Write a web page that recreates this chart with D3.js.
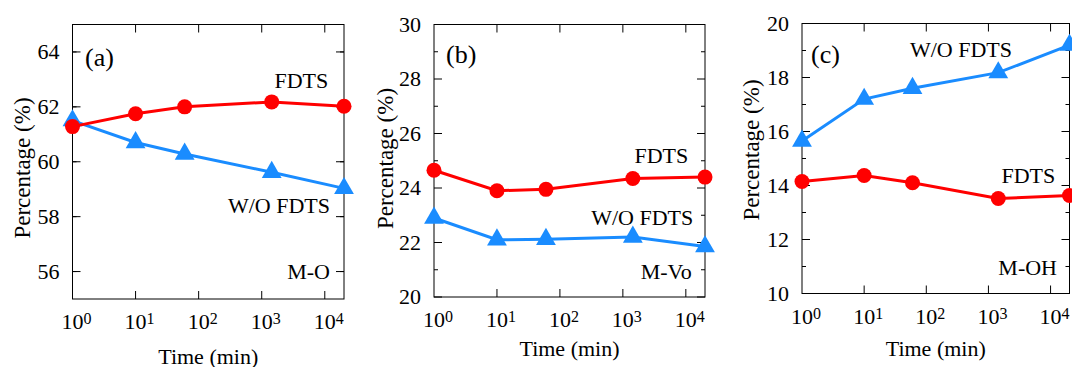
<!DOCTYPE html>
<head>
  <meta charset="utf-8">
  <script src="https://cdn.jsdelivr.net/npm/d3@7/dist/d3.min.js"></script>
  <style>
    body { margin: 0; background: #ffffff; }
    svg text { font-family: "Liberation Serif", "DejaVu Serif", "Times New Roman", Times, serif !important; }
  </style>
</head>

<body>
  <div id="chart"></div>

  <script>
    // Sampling times (min), same for all three panels
    var times = [1, 10, 60, 1440, 20160];
    var xTicks = [1, 10, 100, 1000, 10000];

    // (a) M-O
    var moFdts = [61.28, 61.75, 62.0, 62.18, 62.02];
    var moWo   = [61.5, 60.7, 60.28, 59.62, 59.03];
    var moTicks = [56, 58, 60, 62, 64];

    // (b) M-Vo
    var mvoFdts = [24.65, 23.9, 23.95, 24.35, 24.4];
    var mvoWo   = [22.9, 22.1, 22.12, 22.2, 21.85];
    var mvoTicks = [20, 22, 24, 26, 28, 30];

    // (c) M-OH
    var mohFdts = [14.15, 14.37, 14.1, 13.52, 13.63];
    var mohWo   = [15.65, 17.2, 17.6, 18.18, 19.2];
    var mohTicks = [10, 12, 14, 16, 18, 20];

    var red = "#ff0000",
        blue = "#1a8cff";

    var svg = d3.select("#chart").append("svg")
        .attr("width", 1072)
        .attr("height", 367);

    var panels = [
      { left: 72.5, top: 24.5, width: 271.5, height: 274.5, yDomain: [55, 65], yTicks: moTicks,
        fdts: moFdts, wo: moWo, yTitle: [30, 168], xTitleY: 64.5,
        labels: [
          { text: "(a)", x: 12.5, y: 41.5, size: 26, anchor: "start" },
          { text: "FDTS", x: 255.8, y: 63.2 },
          { text: "W/O FDTS", x: 257.5, y: 188.8 },
          { text: "M-O", x: 257.5, y: 254.8 }
        ] },
      { left: 434, top: 24.5, width: 271, height: 272.5, yDomain: [20, 30], yTicks: mvoTicks,
        fdts: mvoFdts, wo: mvoWo, yTitle: [393, 158.5], xTitleY: 58.5,
        labels: [
          { text: "(b)", x: 12, y: 38.8, size: 26, anchor: "start" },
          { text: "FDTS", x: 254.3, y: 138.2 },
          { text: "W/O FDTS", x: 259.3, y: 200.5 },
          { text: "M-Vo", x: 257.7, y: 254.8 }
        ] },
      { left: 802, top: 23.5, width: 267.5, height: 270, yDomain: [10, 20], yTicks: mohTicks,
        fdts: mohFdts, wo: mohWo, yTitle: [759, 150], xTitleY: 62.5,
        labels: [
          { text: "(c)", x: 9, y: 39.8, size: 26, anchor: "start" },
          { text: "W/O FDTS", x: 210, y: 33.8 },
          { text: "FDTS", x: 253.3, y: 159.2 },
          { text: "M-OH", x: 255, y: 251.5 }
        ] }
    ];

    panels.forEach(function(p) {
      var x = d3.scaleLog().domain([1, 20160]).range([0, p.width]);
      var y = d3.scaleLinear().domain(p.yDomain).range([p.height, 0]);

      var g = svg.append("g")
          .attr("transform", "translate(" + p.left + "," + p.top + ")");

      // minor y ticks at the odd values between the majors
      var minor = [];
      for (var v = p.yDomain[0] + 1; v < p.yDomain[1]; v += 2) minor.push(v);

      g.selectAll(".ymaj").data(p.yTicks).enter().append("path")
          .attr("d", function(d) {
            return "M0," + y(d) + "h8M" + p.width + "," + y(d) + "h-8";
          })
          .attr("stroke", "#000").attr("stroke-width", 1);
      g.selectAll(".ymin").data(minor).enter().append("path")
          .attr("d", function(d) {
            return "M0," + y(d) + "h4M" + p.width + "," + y(d) + "h-4";
          })
          .attr("stroke", "#000").attr("stroke-width", 1);
      g.selectAll(".xmaj").data(xTicks.slice(1)).enter().append("path")
          .attr("d", function(d) {
            return "M" + x(d) + "," + p.height + "v-8M" + x(d) + ",0v8";
          })
          .attr("stroke", "#000").attr("stroke-width", 1);

      // y tick labels
      g.selectAll(".ylab").data(p.yTicks).enter().append("text")
          .attr("x", -13)
          .attr("y", function(d) { return y(d); })
          .attr("dy", "0.34em")
          .attr("text-anchor", "end")
          .style("font-size", "22px")
          .text(function(d) { return d; });

      // x tick labels as 10^n
      var xl = g.selectAll(".xlab").data(xTicks).enter().append("text")
          .attr("x", function(d) { return x(d) - 11; })
          .attr("y", p.height + 30)
          .style("font-size", "22px");
      xl.append("tspan").text("10");
      xl.append("tspan")
          .attr("dy", -5)
          .style("font-size", "16px")
          .text(function(d) { return Math.round(Math.log10(d)); });

      // frame
      g.append("rect")
          .attr("width", p.width)
          .attr("height", p.height)
          .attr("fill", "none")
          .attr("stroke", "#000")
          .attr("stroke-width", 1);

      // axis titles
      g.append("text")
          .attr("x", p.width / 2)
          .attr("y", p.height + p.xTitleY)
          .attr("text-anchor", "middle")
          .style("font-size", "22px")
          .text("Time (min)");
      svg.append("text")
          .attr("transform", "translate(" + p.yTitle[0] + "," + p.yTitle[1] + ") rotate(-90)")
          .attr("text-anchor", "middle")
          .style("font-size", "23px")
          .text("Percentage (%)");

      var line = d3.line()
          .x(function(d, i) { return x(times[i]); })
          .y(function(d) { return y(d); });

      // W/O FDTS series
      g.append("path")
          .datum(p.wo)
          .attr("d", line)
          .attr("fill", "none")
          .attr("stroke", blue)
          .attr("stroke-width", 3);
      g.selectAll(".tri").data(p.wo).enter().append("path")
          .attr("d", d3.symbol().type(d3.symbolTriangle).size(170))
          .attr("transform", function(d, i) {
            return "translate(" + x(times[i]) + "," + y(d) + ")";
          })
          .attr("fill", blue);

      // FDTS series
      g.append("path")
          .datum(p.fdts)
          .attr("d", line)
          .attr("fill", "none")
          .attr("stroke", red)
          .attr("stroke-width", 3);
      g.selectAll(".dot").data(p.fdts).enter().append("circle")
          .attr("cx", function(d, i) { return x(times[i]); })
          .attr("cy", function(d) { return y(d); })
          .attr("r", 7.5)
          .attr("fill", red);

      // in-plot labels
      p.labels.forEach(function(l) {
        g.append("text")
            .attr("x", l.x)
            .attr("y", l.y)
            .attr("text-anchor", l.anchor || "end")
            .style("font-size", (l.size || 22) + "px")
            .text(l.text);
      });
    });
  </script>
</body>
